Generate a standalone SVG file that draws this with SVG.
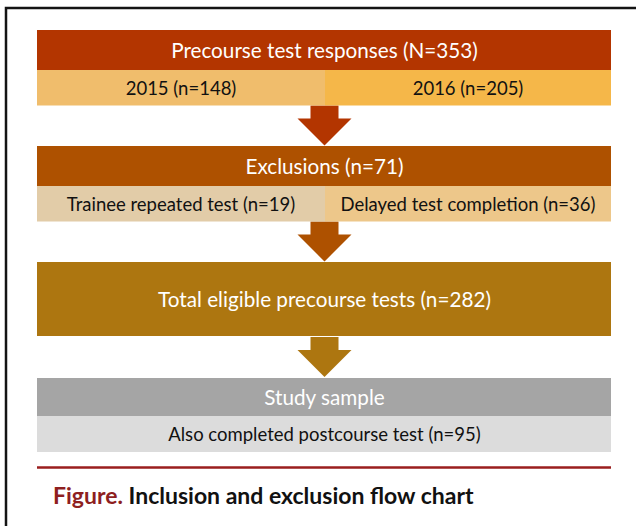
<svg xmlns="http://www.w3.org/2000/svg" width="636" height="526" viewBox="0 0 636 526">
  <style>
    text { font-family: Lato, "Open Sans", "Liberation Sans", sans-serif; text-anchor: middle; dominant-baseline: central; }
    .hd { fill: #ffffff; font-size: 20.7px; }
    .sb { fill: #111111; font-size: 18.5px; }
    .cap { font-size: 23px; font-weight: bold; text-anchor: start; dominant-baseline: alphabetic; }
  </style>
  <defs>
    <!-- block arrow pointing down, centred on x=0, top at y=0 -->
    <path id="arrowShape" d="M-14,0 H14 V13 H27 L0,40 L-27,13 H-14 Z"/>
  </defs>

  <rect width="636" height="526" fill="#ffffff"/>
  <!-- frame -->
  <path d="M6,526 V8 H636" fill="none" stroke="#141414" stroke-width="2.5"/>

  <g id="connectors">
    <use href="#arrowShape" x="324.5" y="105.5" fill="#B33500"/>
    <use href="#arrowShape" x="324.5" y="221.5" fill="#AE5100"/>
    <use href="#arrowShape" x="324.5" y="337" fill="#AD7610"/>
  </g>

  <g id="precourse">
    <rect x="37" y="30" width="574" height="40" fill="#B33500"/>
    <text class="hd" x="324.5" y="50">Precourse test responses (N=353)</text>
  </g>
  <g id="y2015">
    <rect x="37" y="70" width="288" height="35.5" fill="#F0BD6C"/>
    <text class="sb" x="181" y="88">2015 (n=148)</text>
  </g>
  <g id="y2016">
    <rect x="325" y="70" width="286" height="35.5" fill="#F5B749"/>
    <text class="sb" x="468" y="88">2016 (n=205)</text>
  </g>

  <g id="exclusions">
    <rect x="37" y="146" width="574" height="40" fill="#AE5100"/>
    <text class="hd" x="324.5" y="166">Exclusions (n=71)</text>
  </g>
  <g id="repeated">
    <rect x="37" y="186" width="288" height="35.5" fill="#E2CCA8"/>
    <text class="sb" x="181" y="204">Trainee repeated test (n=19)</text>
  </g>
  <g id="delayed">
    <rect x="325" y="186" width="286" height="35.5" fill="#EDC78A"/>
    <text class="sb" x="468" y="204">Delayed test completion (n=36)</text>
  </g>

  <g id="eligible">
    <rect x="37" y="262" width="574" height="74" fill="#AD7610"/>
    <text class="hd" x="324.5" y="299">Total eligible precourse tests (n=282)</text>
  </g>

  <g id="study">
    <rect x="37" y="378" width="574" height="38" fill="#A5A5A5"/>
    <text class="hd" x="324.5" y="397">Study sample</text>
  </g>
  <g id="postcourse">
    <rect x="37" y="416" width="574" height="36" fill="#DCDCDC"/>
    <text class="sb" x="324.5" y="434">Also completed postcourse test (n=95)</text>
  </g>

  <!-- caption rule and title -->
  <line x1="37" y1="467.5" x2="611" y2="467.5" stroke="#9A1E1E" stroke-width="2.5"/>
  <text class="cap" x="53" y="504"><tspan fill="#8E1F1F">Figure.</tspan><tspan fill="#111111"> Inclusion and exclusion flow chart</tspan></text>
</svg>
